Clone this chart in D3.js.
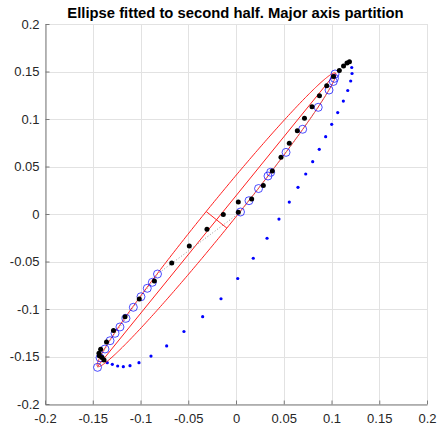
<!DOCTYPE html>
<html>
<head>
<meta charset="utf-8">
<script src="https://cdn.jsdelivr.net/npm/d3@7/dist/d3.min.js"></script>
<style>
  html, body { margin: 0; padding: 0; background: #fff; }
  svg { display: block; }
  text { font-family: "Liberation Sans", Arial, Helvetica, sans-serif; }
</style>
</head>
<body>
<svg id="chart" width="438" height="430"></svg>
<script>
// ---------- data ----------
const titleText = "Ellipse fitted to second half. Major axis partition";
const xTicks = [-0.2, -0.15, -0.1, -0.05, 0, 0.05, 0.1, 0.15, 0.2];
const yTicks = [-0.2, -0.15, -0.1, -0.05, 0, 0.05, 0.1, 0.15, 0.2];
const tickLabels = ["-0.2", "-0.15", "-0.1", "-0.05", "0", "0.05", "0.1", "0.15", "0.2"];

// small blue dots (full loop)
const loopX = [-0.1348, -0.1295, -0.1239, -0.1180, -0.1110, -0.1016, -0.0890, -0.0726, -0.0545, -0.0349,
  -0.0157, 0.0018, 0.0181, 0.0325, 0.0450, 0.0558, 0.0649, 0.0730, 0.0803, 0.0872,
  0.0939, 0.1002, 0.1065, 0.1124, 0.1170, 0.1201, 0.1215, 0.1212];
const loopY = [-0.1565, -0.1582, -0.1600, -0.1607, -0.1597, -0.1565, -0.1495, -0.1389, -0.1237, -0.1081,
  -0.0892, -0.0679, -0.0466, -0.0255, -0.0053, 0.0126, 0.0281, 0.0421, 0.0551, 0.0681,
  0.0814, 0.0944, 0.1068, 0.1189, 0.1300, 0.1400, 0.1479, 0.1542];

// black dots
const blackX = [-0.1382, -0.1403, -0.1431, -0.1435, -0.1417, -0.1356, -0.1283, -0.1162, -0.1013, -0.0855,
  -0.0673, -0.0489, -0.0304, -0.0133, 0.0024, 0.0024, 0.0164, 0.0286, 0.0380, 0.0471,
  0.0558, 0.0642, 0.0717, 0.0796, 0.0874, 0.0950, 0.1021, 0.1082, 0.1126, 0.1162, 0.1188];
const blackY = [-0.1537, -0.1511, -0.1492, -0.1466, -0.1424, -0.1347, -0.1226, -0.1081, -0.0895, -0.0705,
  -0.0516, -0.0337, -0.0161, -0.0005, 0.0018, 0.0126, 0.0158, 0.0300, 0.0453, 0.0597,
  0.0744, 0.0877, 0.1007, 0.1129, 0.1244, 0.1349, 0.1447, 0.1511, 0.1558, 0.1589, 0.1603];

// blue open circles (second half)
const circX = [-0.1450, -0.1424, -0.1372, -0.1319, -0.1267, -0.1215, -0.1152, -0.1075, -0.0995, -0.0929,
  -0.0876, -0.0822, 0.0047, 0.0136, 0.0236, 0.0335, 0.0363, 0.0524, 0.0698, 0.0861,
  0.0974, 0.1019, 0.1031, 0.1037];
const circY = [-0.1614, -0.1513, -0.1421, -0.1334, -0.1256, -0.1189, -0.1098, -0.0982, -0.0871, -0.0782,
  -0.0719, -0.0632, 0.0021, 0.0140, 0.0268, 0.0400, 0.0439, 0.0649, 0.0892, 0.1123,
  0.1305, 0.1395, 0.1428, 0.1474];

// fitted ellipse: centre, semi-axes, orientation (degrees)
const ellCenter = [-0.0204, -0.0061];
const ellAxes = [0.1984, 0.0139];
const ellAngle = [51.1];

// ---------- layout ----------
const svg = d3.select("#chart");
const L = 45, R = 427, T = 24, B = 404;
const x = d3.scaleLinear().domain([-0.2, 0.2]).range([L, R]);
const y = d3.scaleLinear().domain([-0.2, 0.2]).range([B, T]);

// grid
const grid = svg.append("g");
grid.selectAll("line.vx").data(xTicks).join("line")
  .attr("x1", d => Math.round(x(d)) + 0.5).attr("x2", d => Math.round(x(d)) + 0.5)
  .attr("y1", T).attr("y2", B)
  .attr("stroke", "#e2e2e2").attr("stroke-width", 1);
grid.selectAll("line.hy").data(yTicks).join("line")
  .attr("y1", d => Math.round(y(d)) + 0.5).attr("y2", d => Math.round(y(d)) + 0.5)
  .attr("x1", L).attr("x2", R)
  .attr("stroke", "#e2e2e2").attr("stroke-width", 1);

// axes
const xAxis = d3.axisBottom(x).tickValues(xTicks).tickFormat((d, i) => tickLabels[i]).tickSizeInner(-4).tickSizeOuter(0).tickPadding(9);
const yAxis = d3.axisLeft(y).tickValues(yTicks).tickFormat((d, i) => tickLabels[i]).tickSizeInner(-4).tickSizeOuter(0).tickPadding(6);
const gx = svg.append("g").attr("transform", `translate(0,${B + 0.5})`).call(xAxis);
const gy = svg.append("g").attr("transform", `translate(${L + 0.5},0)`).call(yAxis);
[gx, gy].forEach(g => {
  g.select(".domain").attr("stroke", "#7a7a7a");
  g.selectAll(".tick line").attr("stroke", "#7a7a7a");
  g.selectAll(".tick text").attr("fill", "#262626").style("font-size", "13px")
    .style("font-family", '"Liberation Sans", Arial, sans-serif');
});

// small blue dots
const loop = d3.zip(loopX, loopY);
svg.append("g").selectAll("circle").data(loop).join("circle")
  .attr("cx", d => x(d[0])).attr("cy", d => y(d[1])).attr("r", 1.6)
  .attr("fill", "#0000ff");

// ellipse
const th = ellAngle[0] * Math.PI / 180;
const [cx0, cy0] = ellCenter, [ea, eb] = ellAxes;
const ellPts = d3.range(0, 361, 1).map(t => {
  const r = t * Math.PI / 180;
  const u = ea * Math.cos(r), v = eb * Math.sin(r);
  return [cx0 + u * Math.cos(th) - v * Math.sin(th), cy0 + u * Math.sin(th) + v * Math.cos(th)];
});
const line = d3.line().x(d => x(d[0])).y(d => y(d[1]));
const red = svg.append("g").attr("fill", "none").attr("stroke", "#ff2020").attr("stroke-width", 1);
red.append("path").attr("d", line(ellPts));
const majorSeg = [[cx0 - ea * Math.cos(th), cy0 - ea * Math.sin(th)], [cx0 + ea * Math.cos(th), cy0 + ea * Math.sin(th)]];
const minorSeg = [[cx0 + eb * Math.sin(th), cy0 - eb * Math.cos(th)], [cx0 - eb * Math.sin(th), cy0 + eb * Math.cos(th)]];
red.append("path").attr("d", line(majorSeg));
red.append("path").attr("d", line(minorSeg));

// dotted line through circles + circles
const circ = d3.zip(circX, circY);
svg.append("path").attr("d", line(circ)).attr("fill", "none")
  .attr("stroke", "#9a9a9a").attr("stroke-width", 1).attr("stroke-dasharray", "1,2");
svg.append("g").selectAll("circle").data(circ).join("circle")
  .attr("cx", d => x(d[0])).attr("cy", d => y(d[1])).attr("r", 4)
  .attr("fill", "none").attr("stroke", "#0000ff").attr("stroke-width", 0.7);

// black dots
const black = d3.zip(blackX, blackY);
svg.append("g").selectAll("circle").data(black).join("circle")
  .attr("cx", d => x(d[0])).attr("cy", d => y(d[1])).attr("r", 2.5)
  .attr("fill", "#000");

// title
svg.append("text").attr("x", (L + R) / 2 - 0.5).attr("y", 18).attr("text-anchor", "middle")
  .style("font-size", "14.8px").style("font-weight", "bold").attr("fill", "#000")
  .text(titleText);
</script>
</body>
</html>
